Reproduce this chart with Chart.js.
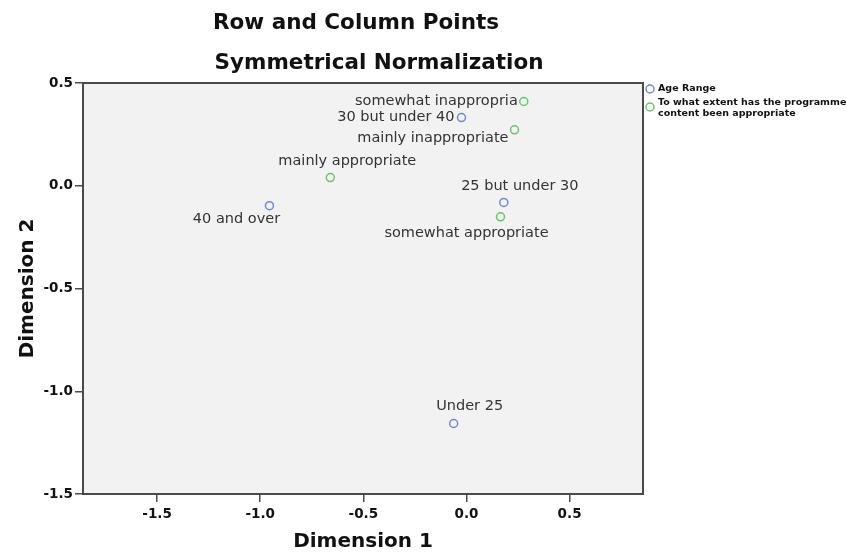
<!DOCTYPE html>
<html>
<head>
<meta charset="utf-8">
<script src="https://cdn.jsdelivr.net/npm/chart.js@4/dist/chart.umd.min.js"></script>
<style>
  html, body { margin: 0; padding: 0; background: #ffffff; }
  #wrap { width: 847px; height: 554px; position: relative; }
</style>
</head>
<body>
<div id="wrap"><canvas id="c" width="847" height="554"></canvas></div>
<script>
// ---- data ----
const ageLabels = ['Under 25', '25 but under 30', '30 but under 40', '40 and over'];
const ageDim1 = [-0.062, 0.181, -0.024, -0.955];
const ageDim2 = [-1.157, -0.081, 0.332, -0.097];

const progLabels = ['mainly appropriate', 'somewhat appropriate', 'somewhat inappropria', 'mainly inappropriate'];
const progDim1 = [-0.660, 0.165, 0.278, 0.233];
const progDim2 = [0.040, -0.151, 0.410, 0.272];

const xTicks = [-1.5, -1.0, -0.5, 0.0, 0.5];
const yTicks = [-1.5, -1.0, -0.5, 0.0, 0.5];

const seriesNames = ['Age Range', ['To what extent has the programme', 'content been appropriate']];
const titleLines = ['Row and Column Points', 'Symmetrical Normalization'];

// ---- label placement (styling, not data) ----
const ageLabelPos = [
  {dx: 16, dy: -17, align: 'center'},
  {dx: 16, dy: -16, align: 'center'},
  {dx: -7, dy: 0, align: 'right'},
  {dx: -33, dy: 14, align: 'center'}
];
const progLabelPos = [
  {dx: 17, dy: -16, align: 'center'},
  {dx: -34, dy: 16, align: 'center'},
  {dx: -6, dy: 0, align: 'right'},
  {dx: -6, dy: 8, align: 'right'}
];

const BLUE = '#7189d3';
const GREEN = '#67c767';

const toPts = (xs, ys) => xs.map((x, i) => ({x: x, y: ys[i]}));

const frame = {
  id: 'frame',
  beforeDatasetsDraw(chart) {
    const {ctx, chartArea: a} = chart;
    ctx.save();
    ctx.fillStyle = '#f2f2f2';
    ctx.fillRect(a.left, a.top, a.right - a.left, a.bottom - a.top);
    ctx.strokeStyle = '#4a4a4a';
    ctx.lineWidth = 2;
    ctx.strokeRect(a.left, a.top, a.right - a.left, a.bottom - a.top);
    ctx.restore();
  },
  afterDatasetsDraw(chart) {
    const {ctx} = chart;
    ctx.save();
    // point labels
    ctx.font = '14.5px "DejaVu Sans"';
    ctx.fillStyle = '#333333';
    ctx.textBaseline = 'middle';
    const groups = [[ageLabels, ageLabelPos], [progLabels, progLabelPos]];
    groups.forEach(([labels, pos], di) => {
      const meta = chart.getDatasetMeta(di);
      meta.data.forEach((el, i) => {
        const p = pos[i];
        ctx.textAlign = p.align;
        ctx.fillText(labels[i], el.x + p.dx, el.y + p.dy);
      });
    });
    // titles
    ctx.fillStyle = '#111111';
    ctx.font = 'bold 21.5px "DejaVu Sans"';
    ctx.textAlign = 'center';
    ctx.fillText(titleLines[0], 356, 23);
    ctx.fillText(titleLines[1], 379, 63);
    // legend
    const a = chart.chartArea;
    const lx = a.right + 7;
    const items = [[seriesNames[0], BLUE, 89], [seriesNames[1], GREEN, 107]];
    ctx.font = 'bold 9.5px "DejaVu Sans"';
    ctx.textAlign = 'left';
    items.forEach(([name, col, y]) => {
      ctx.beginPath();
      ctx.arc(lx, y, 4, 0, Math.PI * 2);
      ctx.strokeStyle = col;
      ctx.lineWidth = 1.5;
      ctx.stroke();
      const lines = Array.isArray(name) ? name : [name];
      const y0 = lines.length > 1 ? y - 4.5 : y;
      lines.forEach((t, k) => ctx.fillText(t, lx + 8, y0 + k * 11.5));
    });
    ctx.restore();
  }
};

new Chart(document.getElementById('c'), {
  type: 'scatter',
  data: {
    datasets: [
      {label: 'Age Range', data: toPts(ageDim1, ageDim2), borderColor: BLUE,
       backgroundColor: 'rgba(0,0,0,0)', pointRadius: 4, borderWidth: 1.5, pointHoverRadius: 4},
      {label: 'To what extent has the programme content been appropriate', data: toPts(progDim1, progDim2),
       borderColor: GREEN, backgroundColor: 'rgba(0,0,0,0)', pointRadius: 4, borderWidth: 1.5, pointHoverRadius: 4}
    ]
  },
  options: {
    responsive: false,
    animation: false,
    events: [],
    layout: {padding: {left: 0, right: 204, top: 83, bottom: 0}},
    plugins: {legend: {display: false}, tooltip: {enabled: false}, title: {display: false}},
    scales: {
      x: {
        type: 'linear', min: -1.859, max: 0.856,
        afterBuildTicks: ax => { ax.ticks = xTicks.map(v => ({value: v})); },
        afterFit: ax => { ax.height = 60; },
        grid: {drawOnChartArea: false, drawTicks: true, tickLength: 8, color: '#4a4a4a', lineWidth: 1.5},
        border: {display: false},
        ticks: {padding: 4, color: '#111', font: {family: '"DejaVu Sans"', size: 13.5, weight: 'bold'}, callback: v => v.toFixed(1), maxRotation: 0, autoSkip: false},
        title: {display: true, text: 'Dimension 1', color: '#111', font: {family: '"DejaVu Sans"', size: 20, weight: 'bold'}, padding: {top: 0, bottom: 0}}
      },
      y: {
        type: 'linear', min: -1.5, max: 0.5,
        afterBuildTicks: ax => { ax.ticks = yTicks.map(v => ({value: v})); },
        afterFit: ax => { ax.width = 83; },
        grid: {drawOnChartArea: false, drawTicks: true, tickLength: 8, color: '#4a4a4a', lineWidth: 1.5},
        border: {display: false},
        ticks: {padding: 2, color: '#111', font: {family: '"DejaVu Sans"', size: 13.5, weight: 'bold'}, callback: v => v.toFixed(1), autoSkip: false},
        title: {display: true, text: 'Dimension 2', color: '#111', font: {family: '"DejaVu Sans"', size: 20, weight: 'bold'}, padding: {top: 16, bottom: 0}}
      }
    }
  },
  plugins: [frame]
});
</script>
</body>
</html>
